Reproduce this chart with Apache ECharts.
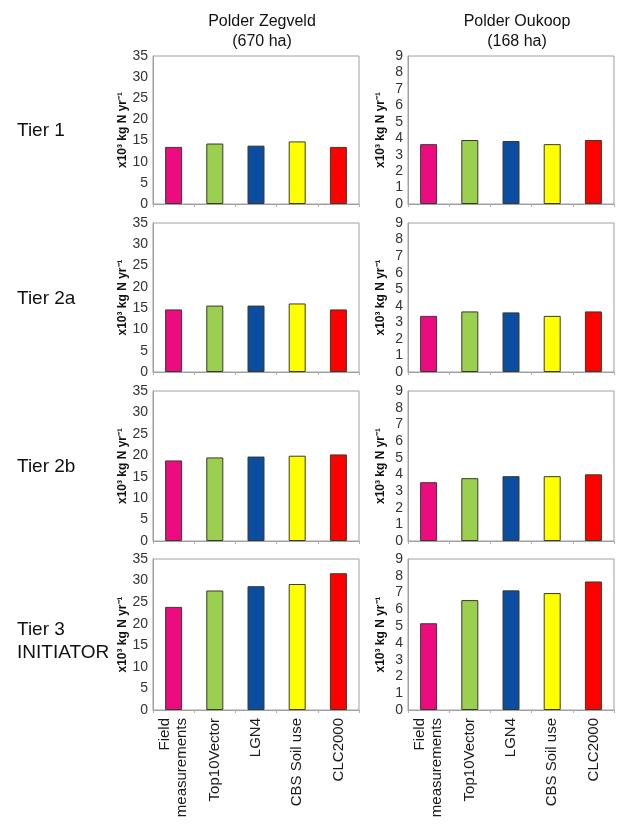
<!DOCTYPE html>
<html>
<head>
<meta charset="utf-8">
<script src="https://cdn.jsdelivr.net/npm/echarts@6/dist/echarts.min.js"></script>
<style>
html,body{margin:0;padding:0;background:#fff;}
#chart{width:619px;height:836px;}
</style>
</head>
<body>
<div id="chart"></div>
<script>
// ---- data ----
const categories = ['Field\nmeasurements', 'Top10Vector', 'LGN4', 'CBS Soil use', 'CLC2000'];
const barColors = ['#EC0C80', '#9BCF4F', '#0B4DA0', '#FFFF00', '#FF0000'];
const tierLabels = ['Tier 1', 'Tier 2a', 'Tier 2b', 'Tier 3\nINITIATOR'];
const columnTitles = ['Polder Zegveld\n(670 ha)', 'Polder Oukoop\n(168 ha)'];
const yAxisName = 'x10³ kg N yr⁻¹';

const zegveldTier1  = [13.5, 14.3, 13.8, 14.8, 13.5];
const zegveldTier2a = [14.7, 15.6, 15.6, 16.1, 14.7];
const zegveldTier2b = [18.8, 19.5, 19.7, 19.9, 20.2];
const zegveldTier3  = [23.9, 27.7, 28.7, 29.2, 31.7];

const oukoopTier1  = [3.64, 3.89, 3.83, 3.64, 3.89];
const oukoopTier2a = [3.39, 3.66, 3.60, 3.39, 3.66];
const oukoopTier2b = [3.53, 3.77, 3.89, 3.89, 4.00];
const oukoopTier3  = [5.17, 6.55, 7.13, 6.97, 7.66];

const zegveldMax = 35, zegveldInterval = 5;
const oukoopMax = 9, oukoopInterval = 1;

// ---- layout ----
const FONT = '"Liberation Sans", Arial, sans-serif';
const colLeft = [153, 408];
const colWidth = 206;
const rowTop = [56, 223, 391, 559];
const rowHeight = [148, 149, 150, 151];

const panels = [
  [zegveldTier1, oukoopTier1],
  [zegveldTier2a, oukoopTier2a],
  [zegveldTier2b, oukoopTier2b],
  [zegveldTier3, oukoopTier3]
];

const grids = [], xAxes = [], yAxes = [], series = [];
let idx = 0;
for (let r = 0; r < 4; r++) {
  for (let c = 0; c < 2; c++) {
    grids.push({
      left: colLeft[c], top: rowTop[r], width: colWidth, height: rowHeight[r],
      show: true, borderColor: '#A0A0A0', borderWidth: 1, backgroundColor: '#fff'
    });
    xAxes.push({
      type: 'category', gridIndex: idx, data: categories,
      axisLine: {lineStyle: {color: '#A0A0A0'}},
      axisTick: {show: true, length: 3, lineStyle: {color: '#B0B0B0'}},
      axisLabel: {
        show: r === 3, rotate: 90, fontSize: 15, color: '#1a1a1a',
        fontFamily: FONT, margin: 8, lineHeight: 17
      }
    });
    yAxes.push({
      type: 'value', gridIndex: idx, min: 0,
      max: c === 0 ? zegveldMax : oukoopMax,
      interval: c === 0 ? zegveldInterval : oukoopInterval,
      splitLine: {show: false},
      axisLine: {show: true, lineStyle: {color: '#A0A0A0'}},
      axisTick: {show: false},
      axisLabel: {fontSize: 14, color: '#333', fontFamily: FONT, margin: 5},
      name: yAxisName, nameLocation: 'middle', nameRotate: 90, nameGap: 21,
      nameTextStyle: {fontSize: 12, fontWeight: 'bold', color: '#111', fontFamily: FONT}
    });
    series.push({
      type: 'bar', xAxisIndex: idx, yAxisIndex: idx,
      data: panels[r][c], barWidth: 17,
      itemStyle: {
        color: p => barColors[p.dataIndex],
        borderColor: '#3a3a2a', borderWidth: 1
      },
      silent: true, animation: false
    });
    idx++;
  }
}

const titles = [
  {text: columnTitles[0], left: 257, top: 7, textAlign: 'center',
   textStyle: {fontSize: 16, fontWeight: 'normal', color: '#111', fontFamily: FONT, lineHeight: 20}},
  {text: columnTitles[1], left: 512, top: 7, textAlign: 'center',
   textStyle: {fontSize: 16, fontWeight: 'normal', color: '#111', fontFamily: FONT, lineHeight: 20}}
];
const tierTops = [114, 282, 450, 613];
tierLabels.forEach((t, i) => {
  titles.push({text: t, left: 12, top: tierTops[i],
    textStyle: {fontSize: 19, fontWeight: 'normal', color: '#111', fontFamily: FONT, lineHeight: 23}});
});

const chart = echarts.init(document.getElementById('chart'), null, {renderer: 'canvas'});
chart.setOption({
  animation: false,
  backgroundColor: '#fff',
  title: titles,
  grid: grids,
  xAxis: xAxes,
  yAxis: yAxes,
  series: series
});
</script>
</body>
</html>
